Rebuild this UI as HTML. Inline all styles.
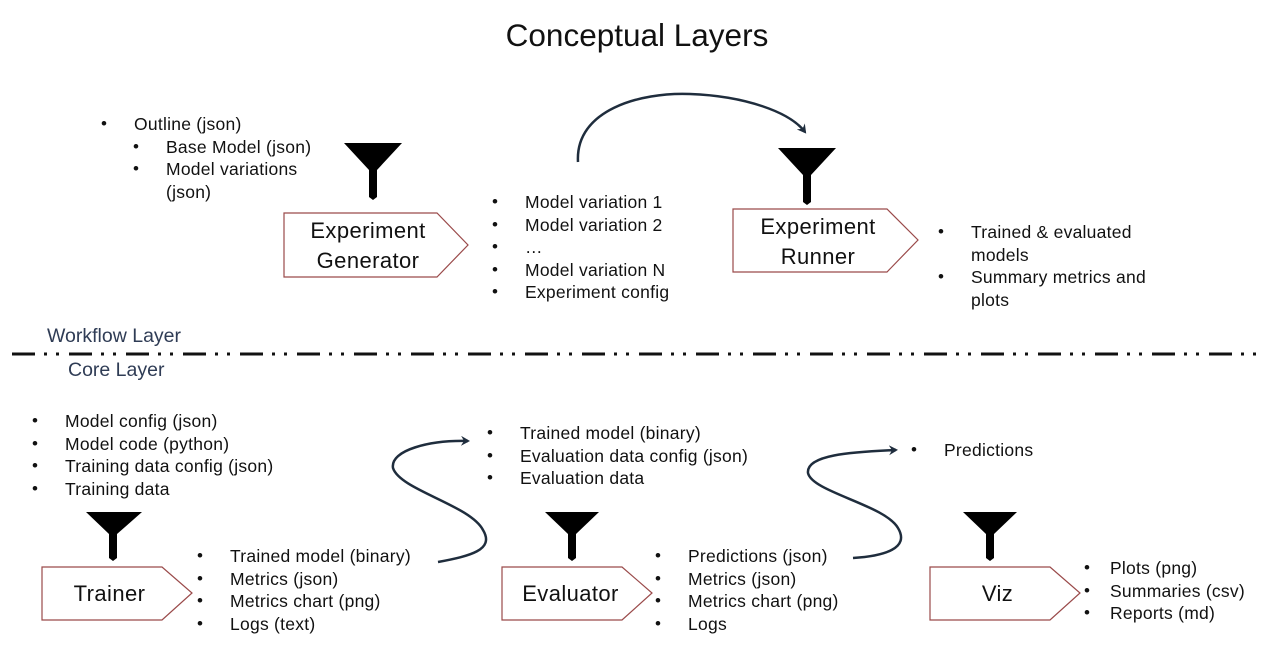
<!DOCTYPE html>
<html><head><meta charset="utf-8"><style>
body{margin:0;background:#fff;width:1274px;height:650px;overflow:hidden;position:relative;font-family:"Liberation Sans",Arial,sans-serif;color:#111}
.t{position:absolute;white-space:nowrap;font-size:17.5px;letter-spacing:0.25px;line-height:22.5px}
.t ul{margin:0;padding:0;list-style:none}
.t li{position:relative;padding-left:0}
.t li:before{content:"•";position:absolute;left:-33px;font-size:17px}
.lbl{position:absolute;font-size:22px;letter-spacing:0.4px;text-align:center;line-height:30px}
</style></head><body>
<svg width="1274" height="650" style="position:absolute;left:0;top:0">
<defs><marker id="a" markerWidth="10" markerHeight="10" refX="7" refY="5" orient="auto" markerUnits="userSpaceOnUse"><path d="M0,0 L9,5 L0,10 L3,5z" fill="#1f2d3d"/></marker></defs>
<g fill="#fff" stroke="#9a4a4a" stroke-width="1.2">
<path d="M284,213 H437 L468,245 L437,277 H284Z"/>
<path d="M733,209 H887 L918,240 L887,272 H733Z"/>
<path d="M42,567 H162 L192,593 L162,620 H42Z"/>
<path d="M502,567 H622 L652,593 L622,620 H502Z"/>
<path d="M930,567 H1050 L1080,593 L1050,620 H930Z"/>
</g>
<g fill="#000">
<path d="M344,143 H402 L377,170 V197 L373,200 L369,197 V170Z"/>
<path d="M778,148 H836 L811,175 V202 L807,205 L803,202 V175Z"/>
<path d="M86,512 H142 L117,534 V558 L113,561 L109,558 V534Z"/>
<path d="M545,512 H599 L576,534 V558 L572,561 L568,558 V534Z"/>
<path d="M963,512 H1017 L994,534 V558 L990,561 L986,558 V534Z"/>
</g>
<g fill="none" stroke="#1f2d3d" stroke-width="2.5">
<path d="M578,162 C575,110 640,92 690,94 C745,96 790,112 805,132" marker-end="url(#a)"/>
<path d="M438,562 C470,556 495,550 483,530 C470,505 400,490 393,468 C390,450 430,440 468,441" marker-end="url(#a)"/>
<path d="M853,558 C885,556 910,548 898,528 C885,505 812,492 808,473 C806,455 850,452 896,450" marker-end="url(#a)"/>
</g>
<line x1="12" y1="354" x2="1262" y2="354" stroke="#111" stroke-width="3" stroke-dasharray="23,9,3,9,3,10"/>
</svg>
<div style="position:absolute;left:0;width:1274px;top:17px;text-align:center;font-size:31.5px">Conceptual Layers</div>
<div class="t" style="left:134px;top:113px"><ul><li>Outline (json)</li></ul>
<ul style="margin-left:32px"><li>Base Model (json)</li><li>Model variations<br>(json)</li></ul></div>
<div class="lbl" style="left:284px;top:216px;width:168px">Experiment<br>Generator</div>
<div class="lbl" style="left:733px;top:212px;width:170px">Experiment<br>Runner</div>
<div class="t" style="left:525px;top:191px"><ul><li>Model variation 1</li><li>Model variation 2</li><li>…</li><li>Model variation N</li><li>Experiment config</li></ul></div>
<div class="t" style="left:971px;top:221px"><ul><li>Trained &amp; evaluated<br>models</li><li>Summary metrics and<br>plots</li></ul></div>
<div style="position:absolute;left:47px;top:325px;font-size:19.5px;color:#2f3c55">Workflow Layer</div>
<div style="position:absolute;left:68px;top:359px;font-size:19.5px;color:#2f3c55">Core Layer</div>
<div class="t" style="left:65px;top:410px"><ul><li>Model config (json)</li><li>Model code (python)</li><li>Training data config (json)</li><li>Training data</li></ul></div>
<div class="t" style="left:230px;top:545px"><ul><li>Trained model (binary)</li><li>Metrics (json)</li><li>Metrics chart (png)</li><li>Logs (text)</li></ul></div>
<div class="t" style="left:520px;top:422px"><ul><li>Trained model (binary)</li><li>Evaluation data config (json)</li><li>Evaluation data</li></ul></div>
<div class="t" style="left:688px;top:545px"><ul><li>Predictions (json)</li><li>Metrics (json)</li><li>Metrics chart (png)</li><li>Logs</li></ul></div>
<div class="t" style="left:944px;top:439px"><ul><li>Predictions</li></ul></div>
<div class="t" style="left:1110px;top:557px"><ul><li>Plots (png)</li><li>Summaries (csv)</li><li>Reports (md)</li></ul></div>
<style>.t[style*="left:1110px"] li:before{left:-26px}</style>
<div class="lbl" style="left:42px;top:579px;width:135px">Trainer</div>
<div class="lbl" style="left:502px;top:579px;width:137px">Evaluator</div>
<div class="lbl" style="left:930px;top:579px;width:135px">Viz</div>
</body></html>
